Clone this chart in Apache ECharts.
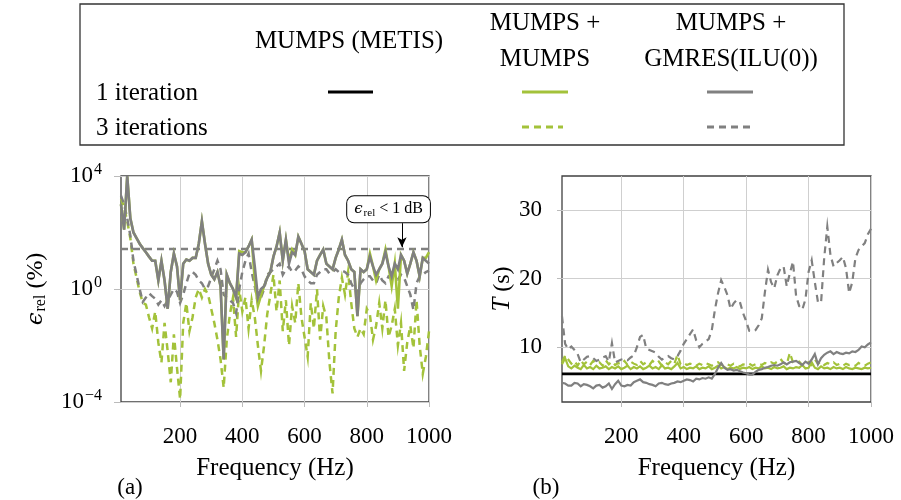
<!DOCTYPE html>
<html>
<head>
<meta charset="utf-8">
<script src="https://cdn.jsdelivr.net/npm/echarts@6/dist/echarts.min.js"></script>
<style>html,body{margin:0;padding:0;background:#fff}#c{width:901px;height:500px}</style>
</head>
<body>
<div id="c"></div>
<script>
// ---- data ----
const freq = [10,20,30,40,50,60,70,80,90,100,110,120,130,140,150,160,170,180,190,200,
210,220,230,240,250,260,270,280,290,300,310,320,330,340,350,360,370,380,390,400,
410,420,430,440,450,460,470,480,490,500,510,520,530,540,550,560,570,580,590,600,
610,620,630,640,650,660,670,680,690,700,710,720,730,740,750,760,770,780,790,800,
810,820,830,840,850,860,870,880,890,900,910,920,930,940,950,960,970,980,990,1000];

// relative error (%) - left panel
const errGmres1 = [1000,126,10000,316,100,63,40,28,20,14,10,10,2.0,10,2.0,0.2,4.0,18,6.3,0.4,
7.9,11,10,12.6,12.6,40,250,40,7.9,3.2,2.2,4.0,1.26,0.0032,3.2,1.6,1.0,0.5,18,16,
20,32,56,6.3,0.5,1.0,1.26,2.5,4.0,14,32,100,10,56,7.9,20,16,71,40,22,
5.0,4.0,3.2,10,16,25,7.9,6.3,5.0,12.6,25,56,16,10,5.0,4.0,0.11,5.0,4.0,5.0,
14,6.3,3.2,5.0,7.9,20,6.3,2.8,7.9,5.0,16,10,3.5,7.9,20,10,2.8,12.6,10,7.9];
const errMumps1 = [1000,126,10000,316,100,63,40,28,20,14,10,10,2.0,10,2.0,0.2,4.0,18,6.3,0.4,
7.9,11,10,12.6,12.6,40,250,40,7.9,3.2,2.2,4.0,1.26,0.0032,3.2,1.6,1.0,0.5,22,20,
20,32,56,2.0,0.25,0.6,1.26,2.5,4.0,14,32,100,10,56,10,25,16,71,40,22,
5.0,4.0,3.2,10,16,25,7.9,6.3,5.0,12.6,25,56,16,10,5.0,4.0,0.11,5.0,4.0,5.0,
18,6.3,2.0,5.0,7.9,25,6.3,1.26,7.9,0.2,16,10,3.5,7.9,20,10,2.8,12.6,12.6,20];
const errGmres3 = [2000,1000,316,79,10,3.2,1.0,0.35,0.5,0.71,0.56,0.45,0.28,0.4,0.25,0.4,0.63,1.0,0.79,0.32,
0.63,1.6,3.5,4.0,3.2,2.0,1.6,1.0,1.26,2.5,5.0,10,5.0,0.63,0.5,0.4,0.32,0.14,1.0,4.0,
10,18,4.0,1.26,0.32,0.5,1.0,3.2,4.0,5.0,6.3,7.9,3.2,5.0,6.3,4.0,4.5,6.3,5.0,2.8,
2.0,1.6,1.6,3.2,4.0,5.0,5.0,3.5,4.0,5.0,4.0,4.5,4.0,3.2,1.6,1.0,0.71,1.6,2.2,2.8,
2.8,2.0,1.6,3.2,2.0,1.6,2.8,2.5,2.5,2.2,3.2,2.5,1.26,0.63,0.18,1.6,2.8,3.2,4.0,4.5];
const errMumps3 = [1600,790,250,63,7.9,2.5,0.79,0.32,0.28,0.1,0.04,0.16,0.0126,0.0025,0.063,0.0063,0.0005,0.025,0.0016,0.000126,
0.063,0.32,0.032,0.1,0.5,1.0,0.5,1.0,0.63,0.2,0.063,0.016,0.0032,0.00032,0.016,0.126,0.5,0.02,1.0,0.16,
0.5,0.04,0.4,0.1,0.01,0.00126,0.01,0.126,0.63,3.2,0.16,2.0,0.032,0.4,0.01,0.25,0.063,1.6,0.1,0.02,
0.004,0.32,0.04,1.0,0.016,0.25,0.1,0.0025,0.0002,0.032,0.5,2.5,0.63,4.0,0.32,0.04,0.02,0.04,0.025,0.2,
0.126,0.016,0.05,0.32,0.04,0.4,0.02,0.05,0.2,0.01,0.063,0.00126,0.0126,0.05,0.008,0.4,0.01,0.001,0.004,0.032];
const thresholdErr = 25.9; // 1 dB
const thresholdLabelFreq = 870, thresholdLabelErr = 665;
const arrowFreq = 913, arrowFromErr = 214, arrowToErr = 30;

// solve time (s) - right panel
const metisFreq = [10, 1000];
const timeMetis = [6.1, 6.1];
const timeMumps1 = [7.5,8.4,7.2,6.9,7.3,7.0,6.8,7.4,6.9,7.1,6.8,7.3,6.9,7.0,7.2,6.8,7.1,6.9,7.2,6.8,
7.0,7.3,6.8,7.1,6.9,7.2,6.8,7.0,7.3,6.9,7.1,6.8,7.4,6.9,7.0,6.8,7.2,7.7,6.9,7.1,
6.8,7.0,6.9,7.2,6.8,7.0,6.9,7.2,6.8,7.0,7.3,6.9,7.1,6.8,7.0,6.9,7.1,6.8,7.0,6.9,
7.1,6.8,7.0,6.9,7.2,6.9,7.0,6.8,7.1,6.9,7.0,7.2,6.8,7.0,6.9,7.1,7.0,7.4,6.9,7.0,
7.8,7.0,6.8,7.2,6.9,7.0,6.8,7.1,6.9,7.0,6.8,7.1,6.9,6.8,7.0,6.9,6.8,7.0,6.9,7.0];
const timeMumps3 = [7.8,8.8,8.2,7.6,8.0,7.3,8.1,7.5,7.9,7.4,8.0,7.6,7.8,7.3,8.1,7.5,7.9,7.4,7.7,7.5,
8.0,7.4,7.9,7.6,7.4,8.0,7.5,7.8,7.4,8.0,7.6,7.9,7.3,7.8,7.5,8.0,7.6,8.9,7.5,7.7,
7.4,7.6,7.5,7.3,7.6,7.4,7.7,7.5,7.3,7.6,7.8,7.4,7.6,7.5,7.3,7.6,7.4,7.2,7.5,7.4,
7.6,7.3,7.5,7.6,7.4,7.7,7.5,7.8,7.6,7.9,8.3,7.7,7.5,9.2,7.8,7.6,7.9,7.4,7.6,7.8,
7.4,8.2,7.6,7.9,7.4,7.7,7.5,7.8,7.4,7.6,7.3,7.6,7.4,7.5,7.3,7.7,7.4,7.3,7.6,7.8];
const timeGmres1 = [4.8,4.7,4.4,4.4,4.8,4.7,4.3,4.6,4.5,4.3,4.0,4.4,4.5,4.1,4.3,4.7,3.9,4.6,5.1,4.4,
4.3,4.5,4.4,4.9,5.1,5.3,4.9,4.8,4.6,4.5,4.3,4.7,4.8,4.6,4.5,4.7,4.8,5.0,4.9,5.1,
5.3,5.2,5.0,5.4,5.3,5.5,5.4,5.6,5.4,6.1,7.0,7.7,7.0,6.7,6.8,6.6,6.7,6.5,6.3,6.2,
6.0,6.0,6.4,6.7,6.8,7.0,7.1,7.3,7.4,7.3,7.5,7.8,7.5,7.8,7.9,8.0,7.7,7.4,7.9,7.6,
8.2,9.0,7.5,8.4,8.9,9.2,9.4,9.0,9.3,9.1,9.0,9.2,9.1,9.4,9.3,9.6,10.1,10.0,10.4,10.7];
const timeGmres3 = [14.5,10.5,9.7,10.1,9.6,9.0,7.8,8.2,8.6,8.7,8.4,8.0,8.2,8.5,8.7,7.9,10.6,7.8,8.0,8.2,
8.3,8.1,8.5,8.8,10.0,11.5,11.8,9.8,9.6,9.4,9.2,8.6,8.2,8.5,8.7,8.4,8.2,8.7,9.5,10.5,
11.2,11.9,12.6,11.0,10.0,10.5,10.8,11.2,12.5,15.5,17.9,19.8,18.8,17.6,15.6,16.4,16.9,16.6,15.0,13.8,
12.4,12.3,12.5,13.2,14.2,18.0,21.3,19.5,18.6,20.5,21.5,21.8,18.9,20.8,22.5,17.5,16.0,15.5,17.0,21.0,
22.7,19.5,16.6,16.5,23.0,27.6,23.5,21.8,22.3,22.7,23.2,21.5,17.9,19.5,23.0,24.2,24.7,25.2,26.5,27.3];

const freqTicks = [200, 400, 600, 800, 1000];
const timeTicks = [10, 20, 30];

// ---- styles ----
const FONT = 'Liberation Serif';
const GREEN = '#a3c23a', GRAY = '#808080', BLACK = '#000';
const DASH = [7, 5];
const pair = (xs, ys) => xs.map((x, i) => [x, ys[i]]);

function line(name, xi, yi, data, color, dashed, width, z) {
  return {
    name, type: 'line', xAxisIndex: xi, yAxisIndex: yi, data,
    showSymbol: false, symbol: 'none', animation: false, z: z,
    lineStyle: {color, width: width, type: dashed ? DASH : 'solid', cap: 'butt', join: 'miter'}
  };
}

const axisText = {fontFamily: FONT, fontSize: 23, color: '#000'};

const xAxisBase = (gi) => ({
  type: 'value', gridIndex: gi, min: 10, max: 1000,
  name: 'Frequency (Hz)', nameLocation: 'middle', nameGap: 54,
  nameTextStyle: {fontFamily: FONT, fontSize: 25, color: '#000'},
  axisLine: {show: false},
  axisTick: {show: true, length: 5, inside: false, lineStyle: {color: '#bbb'}, customValues: freqTicks},
  axisLabel: Object.assign({margin: 23, customValues: freqTicks, formatter: v => String(v)}, axisText),
  splitLine: {show: true, lineStyle: {color: '#cfcfcf', width: 1}}
});

const option = {
  backgroundColor: '#fff',
  animation: false,
  grid: [
    {left: 121, top: 176, width: 308, height: 226, show: true, borderColor: '#404040', borderWidth: 1.3, backgroundColor: 'transparent'},
    {left: 562, top: 176, width: 309, height: 226, show: true, borderColor: '#404040', borderWidth: 1.3, backgroundColor: 'transparent'}
  ],
  xAxis: [xAxisBase(0), xAxisBase(1)],
  yAxis: [
    {
      type: 'log', logBase: 10, gridIndex: 0, min: 1e-4, max: 1e4, interval: 4,
      name: '{e|ϵ}{s|rel}{t| (%)}', nameLocation: 'middle', nameGap: 72, nameRotate: 90,
      nameTextStyle: {fontFamily: FONT, fontSize: 24, color: '#000',
        rich: {e: {fontFamily: 'DejaVu Serif', fontSize: 23, fontStyle: 'italic'},
               s: {fontFamily: FONT, fontSize: 16, padding: [10, 0, 0, 1]},
               t: {fontFamily: FONT, fontSize: 24}}},
      axisLine: {show: false},
      axisTick: {show: true, length: 7, lineStyle: {color: '#bbb'}},
      axisLabel: {margin: 19, formatter: function (v) {
          const e = Math.round(Math.log10(v));
          return '{b|10}{s|' + (e < 0 ? '−' + (-e) : e) + '}';
        },
        rich: {b: {fontFamily: FONT, fontSize: 23, color: '#000'},
               s: {fontFamily: FONT, fontSize: 16, color: '#000', padding: [0, 0, 12, 1]}}},
      splitLine: {show: true, lineStyle: {color: '#cfcfcf', width: 1}}
    },
    {
      type: 'value', gridIndex: 1, min: 2, max: 35,
      name: '{i|T}{t| (s)}', nameLocation: 'middle', nameGap: 41, nameRotate: 90,
      nameTextStyle: {fontFamily: FONT, fontSize: 24, color: '#000',
        rich: {i: {fontFamily: FONT, fontSize: 25, fontStyle: 'italic'}, t: {fontFamily: FONT, fontSize: 24}}},
      axisLine: {show: false},
      axisTick: {show: true, length: 5, lineStyle: {color: '#bbb'}, customValues: timeTicks},
      axisLabel: Object.assign({margin: 20, customValues: timeTicks}, axisText),
      splitLine: {show: true, lineStyle: {color: '#cfcfcf', width: 1}}
    }
  ],
  series: [
    Object.assign(line('threshold', 0, 0, [[10, thresholdErr], [1000, thresholdErr]], GRAY, true, 2.4, 2), {
      markPoint: {
        symbol: 'rect', symbolSize: 1, itemStyle: {color: 'transparent'}, silent: true,
        data: [{coord: [thresholdLabelFreq, thresholdLabelErr]}],
        label: {show: true, position: 'inside', formatter: '{e|ϵ}{s|rel}{t| < 1 dB}',
          backgroundColor: '#fff', borderColor: '#000', borderWidth: 1, borderRadius: 7,
          padding: [4, 7, 4, 7], color: '#000',
          rich: {e: {fontFamily: 'DejaVu Serif', fontSize: 15, fontStyle: 'italic'},
                 s: {fontFamily: FONT, fontSize: 11, padding: [7, 0, 0, 1]},
                 t: {fontFamily: FONT, fontSize: 16}}}
      },
      markLine: {
        silent: true, symbol: ['none', 'arrow'], symbolSize: [7, 10],
        label: {show: false}, lineStyle: {color: '#000', width: 1, type: 'solid'},
        data: [[{coord: [arrowFreq, arrowFromErr]}, {coord: [arrowFreq, arrowToErr]}]]
      }
    }),
    line('MUMPS+MUMPS 3 it', 0, 0, pair(freq, errMumps3), GREEN, true, 2.5, 3),
    line('GMRES 3 it', 0, 0, pair(freq, errGmres3), GRAY, true, 2.5, 4),
    line('MUMPS+MUMPS 1 it', 0, 0, pair(freq, errMumps1), GREEN, false, 2.6, 5),
    line('GMRES 1 it', 0, 0, pair(freq, errGmres1), GRAY, false, 2.6, 6),

    line('METIS', 1, 1, pair(metisFreq, timeMetis), BLACK, false, 2.8, 3),
    line('MUMPS+MUMPS 1 it T', 1, 1, pair(freq, timeMumps1), GREEN, false, 2.2, 4),
    line('MUMPS+MUMPS 3 it T', 1, 1, pair(freq, timeMumps3), GREEN, true, 2.2, 4),
    line('GMRES 1 it T', 1, 1, pair(freq, timeGmres1), GRAY, false, 2.2, 5),
    line('GMRES 3 it T', 1, 1, pair(freq, timeGmres3), GRAY, true, 2.2, 5)
  ],
  graphic: [
    {type: 'rect', shape: {x: 80, y: 4, width: 764, height: 141}, style: {fill: 'none', stroke: '#333', lineWidth: 1.3}},
    {type: 'text', x: 349, y: 41, style: {text: 'MUMPS (METIS)', font: '25px "Liberation Serif"', fill: '#000', align: 'center', verticalAlign: 'middle'}},
    {type: 'text', x: 545, y: 23, style: {text: 'MUMPS +', font: '25px "Liberation Serif"', fill: '#000', align: 'center', verticalAlign: 'middle'}},
    {type: 'text', x: 545, y: 59, style: {text: 'MUMPS', font: '25px "Liberation Serif"', fill: '#000', align: 'center', verticalAlign: 'middle'}},
    {type: 'text', x: 731, y: 23, style: {text: 'MUMPS +', font: '25px "Liberation Serif"', fill: '#000', align: 'center', verticalAlign: 'middle'}},
    {type: 'text', x: 731, y: 59, style: {text: 'GMRES(ILU(0))', font: '25px "Liberation Serif"', fill: '#000', align: 'center', verticalAlign: 'middle'}},
    {type: 'text', x: 96, y: 93, style: {text: '1 iteration', font: '25px "Liberation Serif"', fill: '#000', align: 'left', verticalAlign: 'middle'}},
    {type: 'text', x: 96, y: 128, style: {text: '3 iterations', font: '25px "Liberation Serif"', fill: '#000', align: 'left', verticalAlign: 'middle'}},
    {type: 'line', shape: {x1: 328, y1: 92, x2: 373, y2: 92}, style: {stroke: BLACK, lineWidth: 2.8}},
    {type: 'line', shape: {x1: 522, y1: 92, x2: 568, y2: 92}, style: {stroke: GREEN, lineWidth: 2.8}},
    {type: 'line', shape: {x1: 707, y1: 92, x2: 753, y2: 92}, style: {stroke: GRAY, lineWidth: 2.8}},
    {type: 'line', shape: {x1: 522, y1: 127, x2: 563, y2: 127}, style: {stroke: GREEN, lineWidth: 2.8, lineDash: DASH}},
    {type: 'line', shape: {x1: 707, y1: 127, x2: 750, y2: 127}, style: {stroke: GRAY, lineWidth: 2.8, lineDash: DASH}},
    {type: 'text', x: 130, y: 488, style: {text: '(a)', font: '23px "Liberation Serif"', fill: '#000', align: 'center', verticalAlign: 'middle'}},
    {type: 'text', x: 546, y: 488, style: {text: '(b)', font: '23px "Liberation Serif"', fill: '#000', align: 'center', verticalAlign: 'middle'}}
  ]
};

const chart = echarts.init(document.getElementById('c'), null, {renderer: 'canvas'});
chart.setOption(option);
</script>
</body>
</html>
